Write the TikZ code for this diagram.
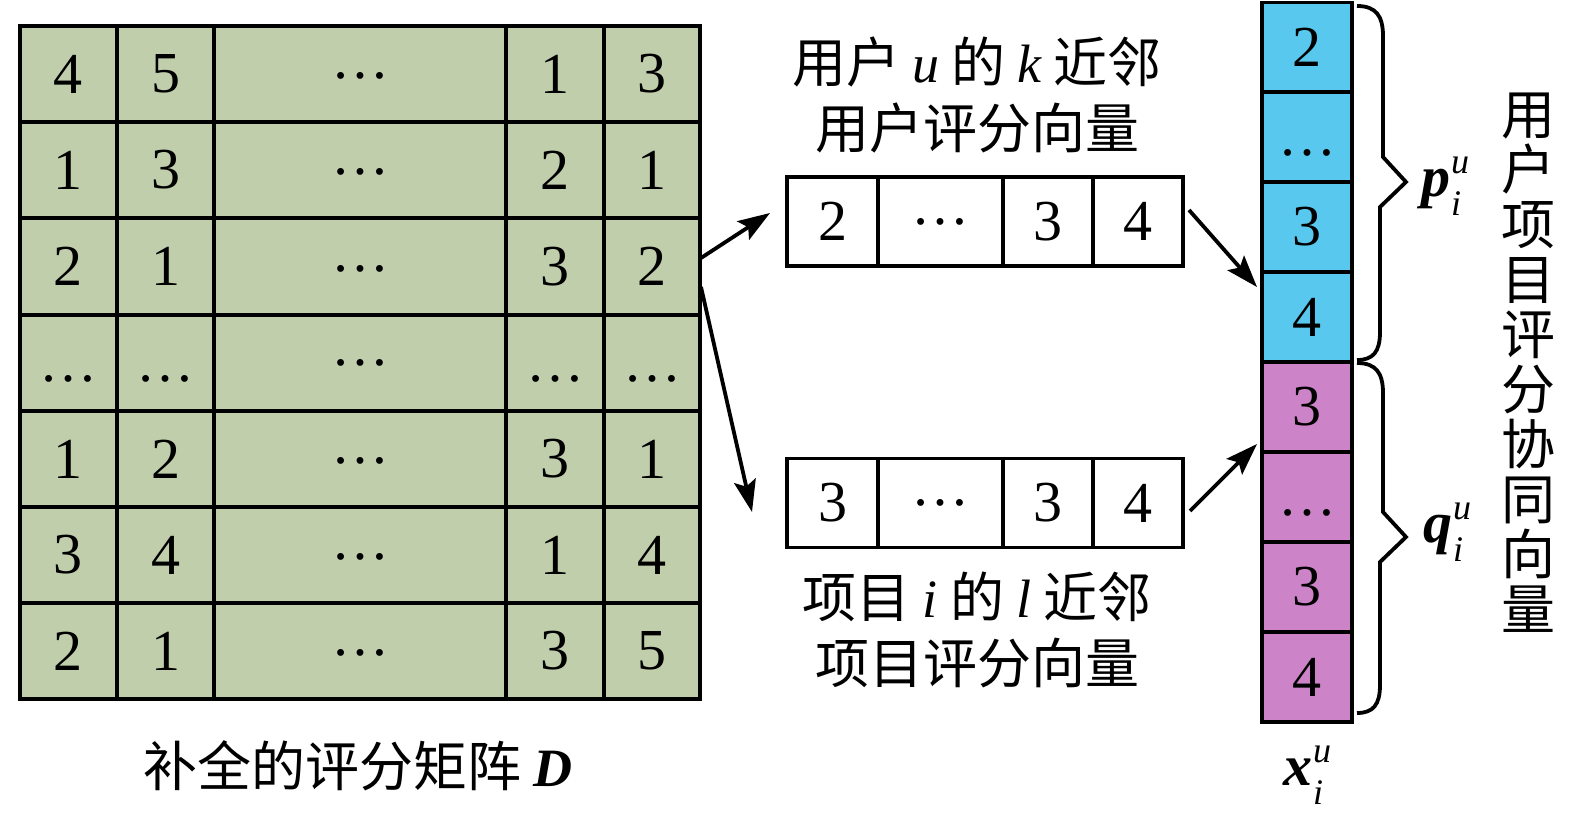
\documentclass[tikz,border=0pt]{standalone}
\usepackage{fontspec}
\setmainfont{Liberation Serif}
\newfontfamily\cjk{Noto Sans CJK SC}
\usetikzlibrary{arrows.meta,calc}
\definecolor{matgreen}{RGB}{193,206,172}
\definecolor{cellblue}{RGB}{88,200,238}
\definecolor{cellpink}{RGB}{205,131,200}
\newcommand{\lit}[1]{{\rmfamily\itshape #1}}
\newcommand{\supsub}[1]{{\bfseries\itshape #1}\kern0.5pt\rlap{\raisebox{-0.32em}{\fontsize{18}{18}\selectfont\itshape i}}\raisebox{0.40em}{\fontsize{18}{18}\selectfont\itshape u}}
\begin{document}
\begin{tikzpicture}[x=0.5pt,y=-0.5pt,
  gridline/.style={line width=1.8pt},
  num/.style={font=\fontsize{29}{30}\selectfont, inner sep=0pt},
  vcell/.style={draw, line width=1.8pt, minimum height=44.5pt, inner sep=0pt, font=\fontsize{29}{30}\selectfont},
  ccell/.style={draw, line width=1.8pt, minimum width=45pt, minimum height=45pt, inner sep=0pt, font=\fontsize{29}{30}\selectfont},
  cn/.style={font=\cjk\fontsize{27}{33}\selectfont, inner sep=0pt, align=center},
  arr/.style={line width=1.9pt, -{Stealth[length=16pt,width=11pt,inset=3pt]}},
  bracepath/.style={line width=1.9pt, line join=miter},
]
\useasboundingbox (0,0) rectangle (1575,815);

% ---------- matrix D ----------
\fill[matgreen] (20,26) rectangle (700,699);
\foreach \x in {117,214,506,604} \draw[gridline] (\x,26) -- (\x,699);
\foreach \y in {122,218,315,411,507,603} \draw[gridline] (20,\y) -- (700,\y);
\draw[gridline] (20,26) rectangle (700,699);
\foreach \a/\b/\c/\d/\yy [count=\i] in {4/5/1/3/74, 1/3/2/1/170, 2/1/3/2/266.5, 1/2/3/1/459, 3/4/1/4/555, 2/1/3/5/651}{
  \node[num] (m\i a) at (68.5,\yy) {\a};
  \node[num] (m\i b) at (165.5,\yy) {\b};
  \node[num] (m\i c) at (360,\yy+2) {…};
  \node[num] (m\i d) at (555,\yy) {\c};
  \node[num] (m\i e) at (652,\yy) {\d};
}
\node[num] (mxa) at (68.5,363) {…\vphantom{1}};
\node[num] (mxb) at (165.5,363) {…\vphantom{1}};
\node[num] (mxc) at (360,363) {…};
\node[num] (mxd) at (555,363) {…\vphantom{1}};
\node[num] (mxe) at (652,363) {…\vphantom{1}};
\node[cn] (capD) at (358,766) {补全的评分矩阵 {\rmfamily\bfseries\itshape D}};

% ---------- neighbour vectors ----------
\node[vcell, minimum width=45.5pt] (t1) at (832.5,221.5) {2};
\node[vcell, minimum width=62.5pt] (t2) at (940.5,221.5) {…};
\node[vcell, minimum width=45pt] (t3) at (1048,221.5) {3};
\node[vcell, minimum width=45pt] (t4) at (1138,221.5) {4};
\node[cn] (ttxt) at (977,95) {用户 \lit{u} 的 \lit{k} 近邻\\用户评分向量};

\node[vcell, minimum width=45.5pt] (b1) at (832.5,503) {3};
\node[vcell, minimum width=62.5pt] (b2) at (940.5,503) {…};
\node[vcell, minimum width=45pt] (b3) at (1048,503) {3};
\node[vcell, minimum width=45pt] (b4) at (1138,503) {4};
\node[cn] (btxt) at (977,630) {项目 \lit{i} 的 \lit{l} 近邻\\项目评分向量};

% ---------- combined vector ----------
\foreach \yy/\t/\c [count=\i] in {47.5/2/cellblue, 137/{…\vphantom{1}}/cellblue, 227/3/cellblue, 317/4/cellblue,
  407/3/cellpink, 497/{…\vphantom{1}}/cellpink, 587/3/cellpink, 677/4/cellpink}{
  \node[ccell, fill=\c] (x\i) at (1307,\yy) {\t};
}
\node[num] (xlab) at (1307,775) {\supsub{x}};

% braces
\draw[bracepath] (1357,6) .. controls (1376,6) and (1383,16) .. (1383,36) -- (1383,157) -- (1406,182) -- (1380,207) -- (1380,332) .. controls (1380,352) and (1373,360) .. (1357,360);
\draw[bracepath] (1357,363) .. controls (1376,363) and (1383,373) .. (1383,393) -- (1383,512) -- (1406,537) -- (1380,562) -- (1380,685) .. controls (1380,705) and (1373,713) .. (1357,713);
\node[num] (plab) at (1445,186) {\supsub{p}};
\node[num] (qlab) at (1447,532) {\supsub{q}};
\node[font=\cjk\fontsize{27}{27.5}\selectfont, inner sep=0pt, align=center] (vtxt) at (1528,363)
  {用\\户\\项\\目\\评\\分\\协\\同\\向\\量};

% ---------- arrows ----------
\coordinate (s1) at (701,258);
\coordinate (e1) at (770,213);
\coordinate (s2) at (701,287);
\coordinate (e2) at (752,512);
\coordinate (s3) at (1189,210);
\coordinate (e3) at (1257,287);
\coordinate (s4) at (1190,511);
\coordinate (e4) at (1257,444);
\draw[arr] (s1) -- (e1);
\draw[arr] (s2) -- (e2);
\draw[arr] (s3) -- (e3);
\draw[arr] (s4) -- (e4);
\end{tikzpicture}
\end{document}
